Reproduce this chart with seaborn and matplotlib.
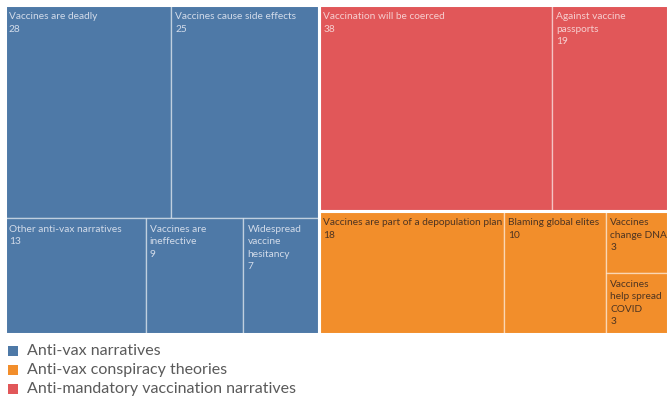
import seaborn as sns
import matplotlib.pyplot as plt
from matplotlib.patches import Rectangle

sns.set_theme(style="white")
plt.rcParams['font.family'] = ['Lato', 'DejaVu Sans']

# data
groups = ["Anti-vax narratives", "Anti-vax conspiracy theories",
          "Anti-mandatory vaccination narratives"]
group_colors = ["#4E79A7", "#F28E2B", "#E15759"]

antivax_labels = ["Vaccines are deadly", "Vaccines cause side effects",
                  "Other anti-vax narratives", "Vaccines are ineffective",
                  "Widespread vaccine hesitancy"]
antivax_values = [28, 25, 13, 9, 7]

conspiracy_labels = ["Vaccines are part of a depopulation plan",
                     "Blaming global elites", "Vaccines change DNA",
                     "Vaccines help spread COVID"]
conspiracy_values = [18, 10, 3, 3]

mandatory_labels = ["Vaccination will be coerced", "Against vaccine passports"]
mandatory_values = [38, 19]

text_colors = {"#4E79A7": "#d3dcea", "#F28E2B": "#4d3422", "#E15759": "#f6cfd0"}

fig = plt.figure(figsize=(6.68, 4.01), dpi=100)
ax = fig.add_axes([5 / 668, 67 / 401, 663 / 668, 329 / 401])
ax.set_xlim(0, 1)
ax.set_ylim(1, 0)
ax.axis("off")
renderer = fig.canvas.get_renderer()


def split(rect, values, horizontal):
    x, y, w, h = rect
    total = sum(values)
    out = []
    pos = 0
    for v in values:
        f = v / total
        if horizontal:
            out.append((x + pos * w, y, f * w, h))
        else:
            out.append((x, y + pos * h, w, f * h))
        pos += f
    return out


def text_width(s, size):
    t = ax.text(0, 0, s, fontsize=size)
    wpx = t.get_window_extent(renderer).width
    t.remove()
    return wpx


def wrap(label, max_px, size):
    lines = []
    cur = ""
    for word in label.split():
        trial = (cur + " " + word).strip()
        if cur and text_width(trial, size) > max_px:
            lines.append(cur)
            cur = word
        else:
            cur = trial
    lines.append(cur)
    return lines


ax_w = ax.get_window_extent(renderer).width
ax_h = ax.get_window_extent(renderer).height


def cell(rect, label, value, color):
    x, y, w, h = rect
    ax.add_patch(Rectangle((x, y), w, h, facecolor=color,
                           edgecolor=(1, 1, 1, 0.45), linewidth=1.0))
    size = 7.3
    lines = wrap(label, w * ax_w - 4, size) + [str(value)]
    pad_x = 4 / ax_w
    pad_y = 7 / ax_h
    ax.text(x + pad_x, y + pad_y, "\n".join(lines), fontsize=size,
            color=text_colors[color], va="top", ha="left", linespacing=1.5,
            clip_on=True)


# group layout: anti-vax left, mandatory over conspiracy on the right
group_sums = [sum(antivax_values), sum(mandatory_values) + sum(conspiracy_values)]
left, right = split((0, 0, 1, 1), group_sums, True)
red_rect, orange_rect = split(right, [sum(mandatory_values), sum(conspiracy_values)], False)

# anti-vax: two rows
rows = split(left, [sum(antivax_values[:2]), sum(antivax_values[2:])], False)
blue_cells = split(rows[0], antivax_values[:2], True) + split(rows[1], antivax_values[2:], True)
for r, lab, v in zip(blue_cells, antivax_labels, antivax_values):
    cell(r, lab, v, group_colors[0])

# mandatory: one row
for r, lab, v in zip(split(red_rect, mandatory_values, True), mandatory_labels, mandatory_values):
    cell(r, lab, v, group_colors[2])

# conspiracy: two columns then a stacked column
cols = split(orange_rect, [conspiracy_values[0], conspiracy_values[1], sum(conspiracy_values[2:])], True)
orange_cells = cols[:2] + split(cols[2], conspiracy_values[2:], False)
for r, lab, v in zip(orange_cells, conspiracy_labels, conspiracy_values):
    cell(r, lab, v, group_colors[1])

# white gaps between groups
for g in [left, red_rect, orange_rect]:
    ax.add_patch(Rectangle(g[:2], g[2], g[3], facecolor="none",
                           edgecolor="white", linewidth=2.2))

# legend
for i, (g, c) in enumerate(zip(groups, group_colors)):
    yy = 351 + i * 19
    fig.patches.append(Rectangle((8 / 668, (401 - yy - 5) / 401), 10 / 668, 10 / 401,
                                 facecolor=c, edgecolor="none",
                                 transform=fig.transFigure, figure=fig))
    fig.text(27 / 668, (401 - yy) / 401, g, fontsize=11.5, color="#5a5a5a",
             va="center", ha="left")

fig.savefig("out.png", dpi=100)
